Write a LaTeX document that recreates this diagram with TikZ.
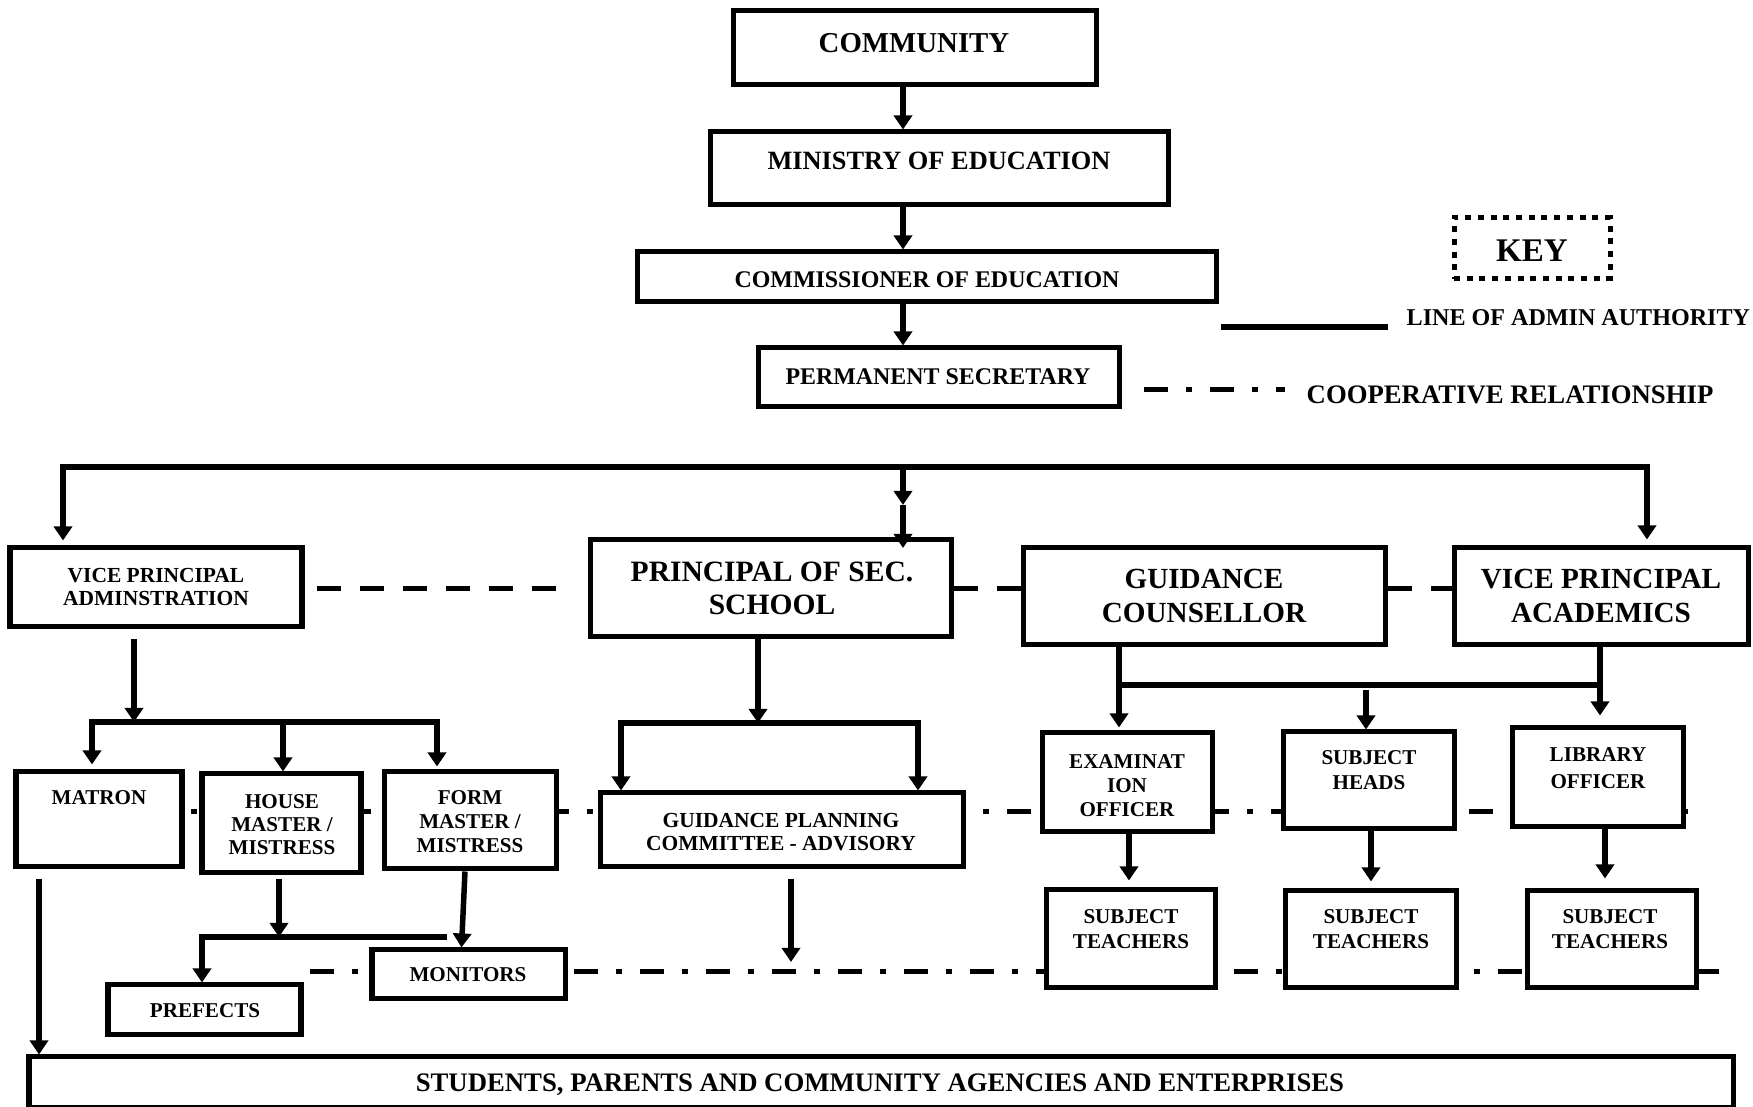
\documentclass[tikz,border=0pt]{standalone}
\usepackage{fontspec}
\setmainfont{Liberation Serif}
\usetikzlibrary{arrows.meta,fit}
\begin{document}
\begin{tikzpicture}[x=0.01cm,y=-0.01cm,
  bx/.style={draw, line width=0.05cm, fill=white, inner sep=0pt},
  keybx/.style={draw, line width=0.05cm, inner sep=0pt, dash pattern=on 0.06cm off 0.067cm},
  tx/.style={align=center, inner sep=0pt},
  fbig/.style={tx, font=\bfseries\fontsize{8.3}{9.4}\selectfont},
  fsmall/.style={tx, font=\bfseries\fontsize{6}{6.8}\selectfont},
  ln/.style={line width=0.055cm},
  arr/.style={ln, -{Triangle[length=0.14cm,width=0.18cm]}},
  arrtwo/.style={ln, line join=miter, {Triangle[length=0.14cm,width=0.18cm]}-{Triangle[length=0.14cm,width=0.18cm]}},
  dsh/.style={line width=0.05cm, dash pattern=on 0.24cm off 0.19cm},
  coop/.style={line width=0.05cm, dash pattern=on 0.06cm off 0.18cm on 0.24cm off 0.18cm}
]
\useasboundingbox (0,0) rectangle (1753,1107);

% ---------- boxes ----------
\node[bx, fit={(733,11) (1096,85)}] (community) {};
\node[bx, fit={(710,132) (1168,205)}] (ministry) {};
\node[bx, fit={(637,252) (1216,302)}] (commissioner) {};
\node[bx, fit={(758,348) (1119,407)}] (ps) {};
\node[keybx, fit={(1454,218) (1610,279)}] (key) {};

\node[bx, fit={(10,548) (302,627)}] (vpadm) {};
\node[bx, fit={(590,540) (951,637)}] (principal) {};
\node[bx, fit={(1023,548) (1385,645)}] (gc) {};
\node[bx, fit={(1454,548) (1748,645)}] (vpac) {};

\node[bx, fit={(16,772) (182,867)}] (matron) {};
\node[bx, fit={(202,774) (361,873)}] (house) {};
\node[bx, fit={(384,772) (556,869)}] (form) {};
\node[bx, fit={(600,793) (963,867)}] (gpc) {};
\node[bx, fit={(1042,733) (1212,832)}] (exam) {};
\node[bx, fit={(1283,732) (1454,829)}] (sh) {};
\node[bx, fit={(1512,728) (1683,827)}] (lib) {};

\node[bx, fit={(108,985) (301,1035)}] (prefects) {};
\node[bx, fit={(372,950) (565,999)}] (monitors) {};
\node[bx, fit={(1046,890) (1215,988)}] (st1) {};
\node[bx, fit={(1285,891) (1456,988)}] (st2) {};
\node[bx, fit={(1527,891) (1696,988)}] (st3) {};

\node[bx, fit={(29,1057) (1733,1108)}] (students) {};

% ---------- texts ----------
\node[tx, font=\bfseries\fontsize{8.2}{9.4}\selectfont] (t-community) at (914,43) {COMMUNITY};
\node[tx, font=\bfseries\fontsize{7.5}{9}\selectfont] (t-ministry) at (939,161) {MINISTRY OF EDUCATION};
\node[tx, font=\bfseries\fontsize{6.8}{8}\selectfont] (t-commissioner) at (927,280) {COMMISSIONER OF EDUCATION};
\node[tx, font=\bfseries\fontsize{6.8}{8}\selectfont] (t-ps) at (938,377) {PERMANENT SECRETARY};
\node[tx, font=\bfseries\fontsize{9.4}{10}\selectfont] (t-key) at (1532,251) {KEY};
\node[tx, anchor=west, font=\bfseries\fontsize{6.85}{8}\selectfont] (t-admin) at (1406,318) {LINE OF ADMIN AUTHORITY};
\node[tx, anchor=west, font=\bfseries\fontsize{7.6}{8}\selectfont] (t-coop) at (1306,395) {COOPERATIVE RELATIONSHIP};

\node[tx, font=\bfseries\fontsize{6.1}{6.8}\selectfont] (t-vpadm) at (156,587) {VICE PRINCIPAL\\ADMINSTRATION};
\node[fbig, font=\bfseries\fontsize{8.4}{9.4}\selectfont] (t-principal) at (772,588) {PRINCIPAL OF SEC.\\SCHOOL};
\node[fbig] (t-gc) at (1204,596) {GUIDANCE\\COUNSELLOR};
\node[fbig] (t-vpac) at (1601,596) {VICE PRINCIPAL\\ACADEMICS};

\node[fsmall] (t-matron) at (99,798) {MATRON};
\node[tx, font=\bfseries\fontsize{6}{6.55}\selectfont] (t-house) at (282,825) {HOUSE\\MASTER /\\MISTRESS};
\node[fsmall] (t-form) at (470,822) {FORM\\MASTER /\\MISTRESS};
\node[tx, font=\bfseries\fontsize{6.1}{6.55}\selectfont] (t-gpc) at (781,832) {GUIDANCE PLANNING\\COMMITTEE - ADVISORY};
\node[fsmall] (t-exam) at (1127,786) {EXAMINAT\\ION\\OFFICER};
\node[tx, font=\bfseries\fontsize{6}{7.1}\selectfont] (t-sh) at (1369,770) {SUBJECT\\HEADS};
\node[tx, font=\bfseries\fontsize{6}{7.7}\selectfont] (t-lib) at (1598,768) {LIBRARY\\OFFICER};
\node[tx, font=\bfseries\fontsize{6}{7.1}\selectfont] (t-st1) at (1131,929) {SUBJECT\\TEACHERS};
\node[tx, font=\bfseries\fontsize{6}{7.1}\selectfont] (t-st2) at (1371,929) {SUBJECT\\TEACHERS};
\node[tx, font=\bfseries\fontsize{6}{7.1}\selectfont] (t-st3) at (1610,929) {SUBJECT\\TEACHERS};
\node[fsmall] (t-prefects) at (205,1011) {PREFECTS};
\node[fsmall] (t-monitors) at (468,975) {MONITORS};
\node[tx, font=\bfseries\fontsize{7.6}{8}\selectfont] (t-students) at (880,1085) {STUDENTS, PARENTS AND COMMUNITY AGENCIES AND ENTERPRISES};

% ---------- key samples ----------
\coordinate (la1) at (1221,327);
\coordinate (la2) at (1388,327);
\draw[ln] (la1) -- (la2);
\coordinate (lc1) at (1144,390);
\coordinate (lc2) at (1285,390);
\draw[coop, dash phase=0.24cm] (lc1) -- (lc2);

% ---------- top chain ----------
\coordinate (ax) at (903,0);
\draw[arr] (community.south -| ax) -- (ministry.north -| ax);
\draw[arr] (ministry.south -| ax) -- (commissioner.north -| ax);
\draw[arr] (commissioner.south -| ax) -- (ps.north -| ax);

% ---------- main bus ----------
\coordinate (busL) at (63,467);
\coordinate (busR) at (1647,467);
\coordinate (busM) at (903,465);
\coordinate (busMid) at (903,505);
\coordinate (pin) at (903,548);
\draw[arrtwo, shorten <=0.05cm, shorten >=0.06cm] (vpadm.north -| busL) -- (busL) -- (busR) -- (vpac.north -| busR);
\draw[arr] (busM) -- (busMid);
\draw[arr] (busMid) -- (pin);

% ---------- cooperative dashed (level 2) ----------
\coordinate (r2) at (0,589);
\draw[dsh, shorten <=0.12cm, shorten >=0.13cm] (vpadm.east |- r2) -- (principal.west |- r2);
\draw[dsh] (principal.east |- r2) -- (gc.west |- r2);
\draw[dsh] (gc.east |- r2) -- (vpac.west |- r2);

% ---------- VP admin branch ----------
\coordinate (b3) at (134,722);
\coordinate (b3l) at (92,722);
\coordinate (b3m) at (283,722);
\coordinate (b3r) at (437,722);
\draw[arr, shorten <=0.1cm] (vpadm.south -| b3) -- (b3);
\draw[arrtwo, shorten <=0.05cm, shorten >=0.03cm] (matron.north -| b3l) -- (b3l) -- (b3r) -- (form.north -| b3r);
\draw[arr] (b3m) -- (house.north -| b3m);

% ---------- principal branch ----------
\coordinate (b4) at (758,723);
\coordinate (b4l) at (621,723);
\coordinate (b4r) at (918,723);
\draw[arr] (principal.south -| b4) -- (b4);
\draw[arrtwo] (gpc.north -| b4l) -- (b4l) -- (b4r) -- (gpc.north -| b4r);

% ---------- GC / VP academics branch ----------
\coordinate (b5l) at (1119,685);
\coordinate (b5m) at (1366,690);
\coordinate (b5r) at (1600,685);
\draw[arr, shorten >=0.03cm] (gc.south -| b5l) -- (exam.north -| b5l);
\draw[ln] (b5l) -- (b5r);
\draw[arr, shorten >=0.1cm] (vpac.south -| b5r) -- (lib.north -| b5r);
\draw[arr] (b5m) -- (sh.north -| b5m);

% ---------- lower arrows ----------
\coordinate (b6) at (279,937);
\coordinate (b6l) at (202,937);
\coordinate (b6r) at (447,937);
\draw[arr, shorten <=0.04cm] (house.south -| b6) -- (b6);
\draw[arr, line join=miter] (b6r) -- (b6l) -- (prefects.north -| b6l);
\draw[arr] ([xshift=-0.05cm]form.south) -- ([xshift=-0.07cm]monitors.north);
\coordinate (b7) at (39,0);
\draw[arr, shorten <=0.1cm] (matron.south -| b7) -- (students.north -| b7);
\coordinate (b8) at (791,962);
\draw[arr, shorten <=0.1cm] (gpc.south -| b8) -- (b8);
\coordinate (b9) at (1129,0);
\draw[arr, shorten >=0.07cm] (exam.south -| b9) -- (st1.north -| b9);
\coordinate (b10) at (1371,0);
\draw[arr, shorten >=0.07cm] (sh.south -| b10) -- (st2.north -| b10);
\coordinate (b11) at (1605,0);
\draw[arr, shorten >=0.1cm] (lib.south -| b11) -- (st3.north -| b11);

% ---------- cooperative dash-dot (level 3) ----------
\coordinate (r3) at (0,812);
\coordinate (r3end) at (1688,812);
\draw[coop, dash phase=0.60cm] (matron.east |- r3) -- (house.west |- r3);
\draw[coop, dash phase=0.41cm] (house.east |- r3) -- (form.west |- r3);
\draw[coop, dash phase=0.38cm] (form.east |- r3) -- (gpc.west |- r3);
\draw[coop, dash phase=0.49cm] (gpc.east |- r3) -- (exam.west |- r3);
\draw[coop, dash phase=0.34cm] (exam.east |- r3) -- (sh.west |- r3);
\draw[coop, dash phase=0.12cm] (sh.east |- r3) -- (lib.west |- r3);
\draw[coop, dash phase=0.43cm] (lib.east |- r3) -- (r3end);

% ---------- cooperative dash-dot (level 4) ----------
\coordinate (r4) at (0,972);
\coordinate (r4end) at (1719,972);
\draw[coop, dash phase=0.18cm] (prefects.east |- r4) -- (monitors.west |- r4);
\draw[coop, dash phase=0.18cm] (monitors.east |- r4) -- (st1.west |- r4);
\draw[coop, dash phase=0.08cm] (st1.east |- r4) -- (st2.west |- r4);
\draw[coop, dash phase=0.51cm] (st2.east |- r4) -- (st3.west |- r4);
\draw[coop, dash phase=0.27cm] (st3.east |- r4) -- (r4end);
\end{tikzpicture}
\end{document}
